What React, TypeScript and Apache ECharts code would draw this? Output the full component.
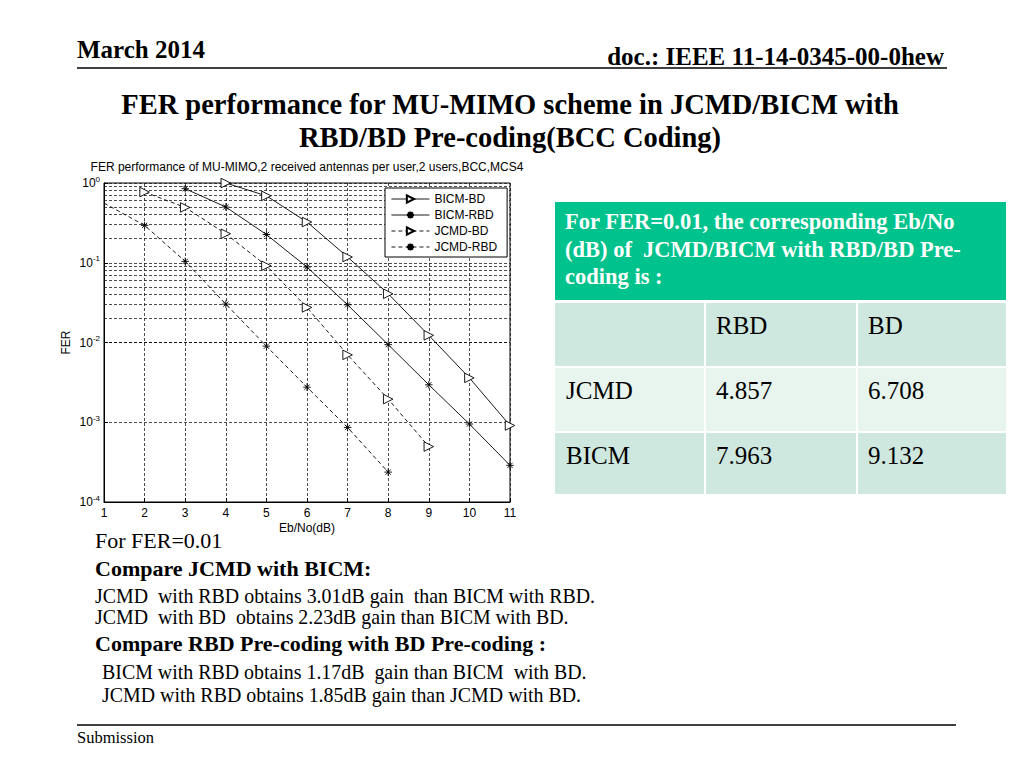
import React, { useEffect, useRef } from "react";
import * as echarts from "echarts";

// ---------- data ----------
const chartTitle = "FER performance of MU-MIMO,2 received antennas per user,2 users,BCC,MCS4";
const seriesNames = ["BICM-BD", "BICM-RBD", "JCMD-BD", "JCMD-RBD"];

const bicmBdX = [4, 5, 6, 7, 8, 9, 10, 11];
const bicmBdFER = [1.0, 0.69, 0.324, 0.118, 0.0408, 0.0123, 0.0036, 0.00091];

const bicmRbdX = [3, 4, 5, 6, 7, 8, 9, 10, 11];
const bicmRbdFER = [0.848, 0.5, 0.226, 0.0883, 0.0297, 0.0094, 0.00295, 0.00095, 0.000288];

const jcmdBdX = [2, 3, 4, 5, 6, 7, 8, 9];
const jcmdBdFER = [0.77, 0.494, 0.231, 0.0917, 0.0275, 0.007, 0.00195, 0.000495];

const jcmdRbdX = [1, 2, 3, 4, 5, 6, 7, 8];
const jcmdRbdFER = [0.56, 0.294, 0.104, 0.0303, 0.009, 0.00275, 0.00086, 0.000237];

const xMin = 1;
const xMax = 11;
const yMin = 1e-4;
const yMax = 1;

const headerLeft = "March 2014";
const headerRight = "doc.: IEEE 11-14-0345-00-0hew";
const slideTitle = ["FER performance for MU-MIMO scheme in JCMD/BICM with", "RBD/BD Pre-coding(BCC Coding)"];
const footer = "Submission";

const tableCaption = ["For FER=0.01, the corresponding Eb/No", "(dB) of  JCMD/BICM with RBD/BD Pre-", "coding is :"];
const tableColumns = ["", "RBD", "BD"];
const tableRows = ["JCMD", "BICM"];
const tableRBD = ["4.857", "7.963"];
const tableBD = ["6.708", "9.132"];

const notes = [
  { text: "For FER=0.01", bold: false, big: true, indent: false },
  { text: "Compare JCMD with BICM:", bold: true, big: true, indent: false },
  { text: "JCMD  with RBD obtains 3.01dB gain  than BICM with RBD.", bold: false, big: false, indent: false },
  { text: "JCMD  with BD  obtains 2.23dB gain than BICM with BD.", bold: false, big: false, indent: false },
  { text: "Compare RBD Pre-coding with BD Pre-coding :", bold: true, big: true, indent: false },
  { text: "BICM with RBD obtains 1.17dB  gain than BICM  with BD.", bold: false, big: false, indent: true },
  { text: "JCMD with RBD obtains 1.85dB gain than JCMD with BD.", bold: false, big: false, indent: true },
];

// ---------- styles ----------
const SERIF = "'Liberation Serif', 'Times New Roman', serif";
const SANS = "'Liberation Sans', Arial, sans-serif";
const TRI = "path://M0,0L10,5L0,10Z";
const STAR = "path://M5,0L5,10M0,5L10,5M1.5,1.5L8.5,8.5M8.5,1.5L1.5,8.5";
const GRID_LINE = { type: [3, 2] as any, color: "#111", width: 0.75 };

function pairs(xs: number[], ys: number[]) {
  return xs.map((x, i) =>
    x === xMin ? { value: [x, ys[i]], symbol: "none" } : [x, ys[i]]
  );
}

function minorGrid() {
  const vals: number[] = [];
  for (let e = Math.log10(yMin); e < Math.log10(yMax); e++) {
    for (let m = 2; m <= 9; m++) vals.push(m * Math.pow(10, e));
  }
  return vals;
}

function makeSeries(name: string, xs: number[], ys: number[], dashed: boolean, tri: boolean, extra: any = {}) {
  return {
    name,
    type: "line",
    data: pairs(xs, ys),
    symbol: tri ? TRI : STAR,
    symbolSize: tri ? 9.5 : 7.5,
    symbolKeepAspect: true,
    showAllSymbol: true,
    lineStyle: { color: "#000", width: 0.9, type: dashed ? [4, 3] : "solid" },
    itemStyle: tri
      ? { color: "#fff", borderColor: "#000", borderWidth: 0.9 }
      : { color: "#000", borderColor: "#000", borderWidth: 0.9 },
    emphasis: { disabled: true },
    z: 3,
    ...extra,
  };
}

function buildGraphics() {
  const g: any[] = [];
  const txt = (text: string, x: number, y: number, size: number, bold: boolean, opts: any = {}) =>
    g.push({
      type: "text",
      silent: true,
      style: {
        text,
        x,
        y,
        fontSize: size,
        fontWeight: bold ? "bold" : "normal",
        fontFamily: SERIF,
        fill: "#000",
        align: "left",
        verticalAlign: "middle",
        ...opts,
      },
      z: 10,
    });

  // header
  txt(headerLeft, 77, 49, 25, true);
  txt(headerRight, 944, 56, 25, true, { align: "right" });
  g.push({ type: "line", silent: true, shape: { x1: 77, y1: 68, x2: 947, y2: 68 }, style: { stroke: "#000", lineWidth: 1.5 } });
  txt(slideTitle[0], 510, 104, 28.5, true, { align: "center" });
  txt(slideTitle[1], 510, 137, 28.5, true, { align: "center" });

  // table
  const colX = [555, 705, 857, 1006];
  const rowY = [302, 367, 432, 495];
  const rowFill = ["#cfe8df", "#e8f4ee", "#cfe8df"];
  g.push({ type: "rect", silent: true, shape: { x: 555, y: 202, width: 451, height: 98 }, style: { fill: "#00c28c" } });
  g.push({
    type: "text",
    silent: true,
    style: {
      text: tableCaption.join("\n"),
      x: 565,
      y: 208,
      fontSize: 22.5,
      fontWeight: "bold",
      fontFamily: SERIF,
      fill: "#fff",
      lineHeight: 27.5,
      verticalAlign: "top",
    },
    z: 10,
  });
  const cells: string[][] = [
    tableColumns,
    [tableRows[0], tableRBD[0], tableBD[0]],
    [tableRows[1], tableRBD[1], tableBD[1]],
  ];
  for (let r = 0; r < 3; r++) {
    for (let c = 0; c < 3; c++) {
      g.push({
        type: "rect",
        silent: true,
        shape: { x: colX[c] + (c > 0 ? 1 : 0), y: rowY[r] + 1, width: colX[c + 1] - colX[c] - (c > 0 ? 1 : 0) - (c < 2 ? 1 : 0), height: rowY[r + 1] - rowY[r] - 2 },
        style: { fill: rowFill[r] },
      });
      if (cells[r][c]) txt(cells[r][c], colX[c] + 11, rowY[r] + 23, 25, false);
    }
  }

  // notes
  const noteY = [540, 568, 596, 617, 643, 672, 695];
  notes.forEach((n, i) => txt(n.text, n.indent ? 102 : 95, noteY[i], n.big ? 22 : 19.9, n.bold));

  // footer
  g.push({ type: "line", silent: true, shape: { x1: 77, y1: 725, x2: 956, y2: 725 }, style: { stroke: "#000", lineWidth: 1.5 } });
  txt(footer, 77, 737, 16.5, false);
  return g;
}

export default function App() {
  const ref = useRef<HTMLDivElement>(null);
  useEffect(() => {
    if (!ref.current) return;
    const chart = echarts.init(ref.current, undefined, { renderer: "svg", width: 1024, height: 768 });
    const option: any = {
      animation: false,
      backgroundColor: "#fff",
      title: {
        text: chartTitle,
        left: 307,
        top: 161,
        textAlign: "center",
        padding: 0,
        textStyle: { fontSize: 12, fontWeight: "normal", fontFamily: SANS, color: "#000" },
      },
      grid: {
        left: 104,
        top: 183,
        width: 406,
        height: 319,
        show: true,
        borderColor: "#000",
        borderWidth: 1,
        backgroundColor: "#fff",
        containLabel: false,
      },
      legend: {
        data: seriesNames,
        orient: "vertical",
        left: 385,
        top: 188,
        backgroundColor: "#fff",
        borderColor: "#000",
        borderWidth: 1,
        borderRadius: 0,
        padding: [5, 10, 4, 6],
        itemGap: 4,
        itemWidth: 38,
        itemHeight: 9,
        selectedMode: false,
        lineStyle: { width: 0.9 },
        textStyle: { fontSize: 12, fontFamily: SANS, color: "#000" },
        z: 20,
      },
      xAxis: {
        type: "value",
        min: xMin,
        max: xMax,
        interval: 1,
        axisLine: { show: true, lineStyle: { color: "#000", width: 1 } },
        axisTick: { show: true, inside: true, length: 4, lineStyle: { color: "#000" } },
        axisLabel: { color: "#000", fontSize: 12, fontFamily: SANS, margin: 5 },
        splitLine: { show: true, lineStyle: GRID_LINE },
        name: "Eb/No(dB)",
        nameLocation: "middle",
        nameGap: 20,
        nameTextStyle: { fontSize: 12, fontFamily: SANS, color: "#000" },
      },
      yAxis: {
        type: "log",
        logBase: 10,
        min: yMin,
        max: yMax,
        axisLine: { show: true, onZero: false, lineStyle: { color: "#000", width: 1 } },
        axisTick: { show: true, inside: true, length: 4, lineStyle: { color: "#000" } },
        axisLabel: {
          color: "#000",
          fontSize: 12,
          fontFamily: SANS,
          margin: 4,
          formatter: (v: number) => "10{sup|" + Math.round(Math.log10(v)) + "}",
          rich: {
            sup: { fontSize: 8, fontFamily: SANS, color: "#000", verticalAlign: "top", lineHeight: 8 },
          },
          lineHeight: 16,
        },
        splitLine: { show: true, lineStyle: GRID_LINE },
        name: "FER",
        nameLocation: "middle",
        nameGap: 32,
        nameRotate: 90,
        nameTextStyle: { fontSize: 12, fontFamily: SANS, color: "#000" },
      },
      series: [
        makeSeries(seriesNames[0], bicmBdX, bicmBdFER, false, true, {
          markLine: {
            silent: true,
            symbol: "none",
            label: { show: false },
            lineStyle: GRID_LINE,
            emphasis: { disabled: true },
            data: minorGrid().map((v) => ({ yAxis: v })),
            z: 1,
          },
        }),
        makeSeries(seriesNames[1], bicmRbdX, bicmRbdFER, false, false),
        makeSeries(seriesNames[2], jcmdBdX, jcmdBdFER, true, true),
        makeSeries(seriesNames[3], jcmdRbdX, jcmdRbdFER, true, false),
      ],
      graphic: buildGraphics(),
    };
    chart.setOption(option);
    return () => chart.dispose();
  }, []);
  return <div ref={ref} style={{ position: "absolute", left: 0, top: 0, width: 1024, height: 768, background: "#fff" }} />;
}
